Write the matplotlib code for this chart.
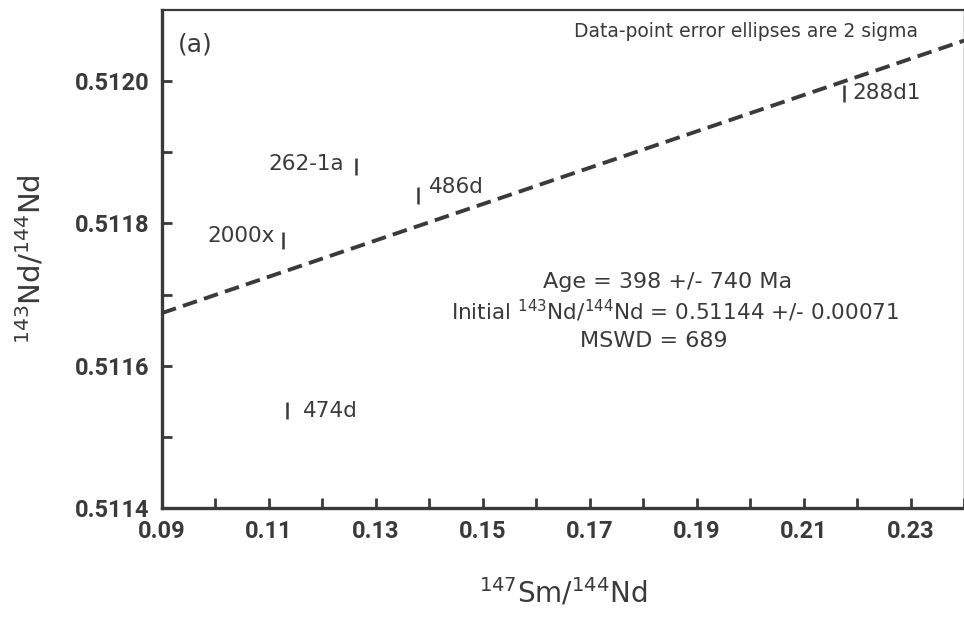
import numpy as np
import matplotlib
matplotlib.use('Agg')
import matplotlib.pyplot as plt

# measured 147Sm/144Nd and 143Nd/144Nd with 2-sigma half widths
samples = ['262-1a', '486d', '2000x', '288d1', '474d']
sm_nd = [0.1263, 0.1379, 0.1127, 0.2176, 0.1133]
nd_nd = [0.51188, 0.511839, 0.511776, 0.511983, 0.511537]
nd_err = [0.000012, 0.000012, 0.000012, 0.000012, 0.000012]

# isochron line as drawn, read at the axis ends
iso_x = [0.09, 0.24]
iso_y = [0.511674, 0.512057]

age_txt = '398 +/- 740'
init_txt = '0.51144 +/- 0.00071'
mswd_txt = '689'

ink = '#3a3a3a'
tick_font = 'Roboto'

fig = plt.figure(figsize=(9.64, 6.17), dpi=100)
ax = fig.add_axes([0.168, 0.1767, 0.832, 0.8071])

ax.plot(iso_x, iso_y, color=ink, lw=2.8, dashes=(3.8, 1.9),
        solid_capstyle='butt', dash_capstyle='butt')

ax.errorbar(sm_nd, nd_nd, yerr=nd_err, fmt='none', ecolor=ink,
            elinewidth=1.8, capsize=0)

# label offsets in points (dx, dy, ha)
offsets = {'262-1a': (-9, 2, 'right'), '486d': (8, 6, 'left'),
           '2000x': (-6, 3, 'right'), '288d1': (6, 0, 'left'),
           '474d': (12, 0, 'left')}
for name, x, y in zip(samples, sm_nd, nd_nd):
    dx, dy, ha = offsets[name]
    ax.annotate(name, (x, y), xytext=(dx, dy), textcoords='offset points',
                ha=ha, va='center', fontsize=15.5, color=ink,
                family='DejaVu Sans')

ax.set_xlim(0.09, 0.24)
ax.set_ylim(0.5114, 0.5121)
xt = np.round(np.arange(0.09, 0.2401, 0.01), 2)
ax.set_xticks(xt)
ax.set_xticklabels(['%.2f' % v if i % 2 == 0 else '' for i, v in enumerate(xt)])
yt = np.round(np.arange(0.5114, 0.51205, 0.0001), 4)
ax.set_yticks(yt)
ax.set_yticklabels(['%.4f' % v if i % 2 == 0 else '' for i, v in enumerate(yt)])
ax.tick_params(direction='in', length=7, width=2, color=ink, pad=9,
               labelsize=17, labelcolor=ink)
for lab in ax.get_xticklabels() + ax.get_yticklabels():
    lab.set_fontweight('bold')
    lab.set_family(tick_font)

ax.spines['left'].set_linewidth(2.4)
ax.spines['bottom'].set_linewidth(2.4)
ax.spines['top'].set_linewidth(1.6)
ax.spines['right'].set_linewidth(1.0)
for s in ax.spines.values():
    s.set_color(ink)

ax.set_xlabel(r'$^{147}$Sm/$^{144}$Nd', fontsize=20, color=ink, labelpad=24)
ax.set_ylabel(r'$^{143}$Nd/$^{144}$Nd', fontsize=21, color=ink, labelpad=20)

ax.text(0.02, 0.955, '(a)', transform=ax.transAxes, fontsize=18,
        color=ink, va='top')
ax.text(0.728, 0.975, 'Data-point error ellipses are 2 sigma',
        transform=ax.transAxes, fontsize=13.5, color=ink, ha='center', va='top')
ax.text(0.1846, 0.511717, 'Age = %s Ma' % age_txt, fontsize=16,
        color=ink, ha='center', va='center')
ax.text(0.1859, 0.511677, r'Initial $^{143}$Nd/$^{144}$Nd = %s' % init_txt,
        fontsize=15.5, color=ink, ha='center', va='center')
ax.text(0.182, 0.511635, 'MSWD = %s' % mswd_txt, fontsize=16, color=ink,
        ha='center', va='center')

fig.savefig('out.png', dpi=100, facecolor='white')
